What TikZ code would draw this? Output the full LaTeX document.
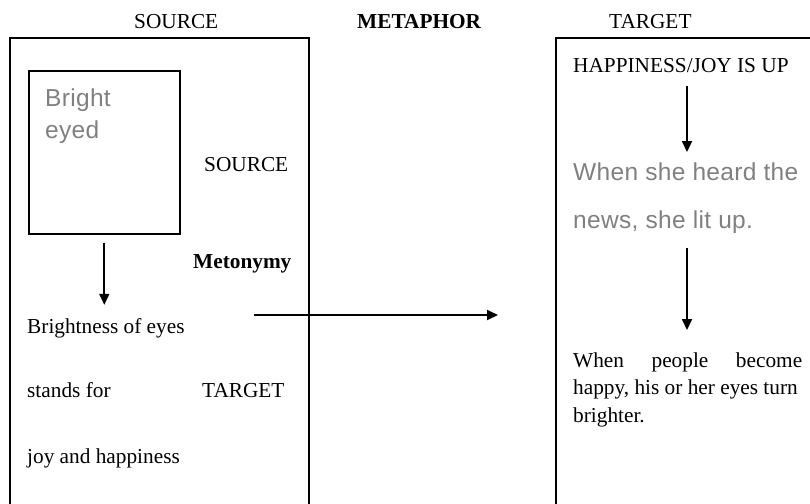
\documentclass[tikz,border=0pt]{standalone}
\usepackage{fontspec}
\setmainfont{Liberation Serif}
\newfontfamily\greysans[LetterSpace=1.3]{Liberation Sans}
\usetikzlibrary{arrows.meta}
\definecolor{textgrey}{RGB}{128,128,128}
\begin{document}
\begin{tikzpicture}[x=1pt,y=-1pt,
  frame/.style={draw, line width=1.6pt, inner sep=0pt, anchor=north west},
  lbl/.style={inner sep=0pt, anchor=base west, font=\fontsize{21.3}{26}\selectfont},
  boldlbl/.style={lbl, font=\fontsize{21.3}{26}\selectfont\bfseries},
  greytxt/.style={inner sep=0pt, anchor=base west, text=textgrey,
    font=\greysans\fontsize{24.5}{30}\selectfont},
  flow/.style={line width=1.8pt, -{Triangle[length=11pt,width=10pt]}}]
\useasboundingbox (0,0) rectangle (810,503);
\clip (0,0) rectangle (810,503);

% headings
\node[lbl] (hsource) at (134,29) {SOURCE};
\node[boldlbl] (hmetaphor) at (357,29) {METAPHOR};
\node[lbl] (htarget) at (609,29) {TARGET};

% source domain (left frame, open at the bottom)
\node[frame, minimum width=299pt, minimum height=520pt] (srcframe) at (9,37.5) {};
\node[frame, minimum width=151pt, minimum height=163pt] (eyebox) at (28,70) {};
\node[greytxt] (bright) at (45,106) {Bright};
\node[greytxt] (eyed) at (45,138) {eyed};
\node[lbl] (isource) at (204,171) {SOURCE};
\node[boldlbl] (metonymy) at (193,268) {Metonymy};
\node[lbl] (brightness) at (27,333) {Brightness of eyes};
\node[lbl] (standsfor) at (27,397) {stands for};
\node[lbl] (itarget) at (202,397) {TARGET};
\node[lbl] (joy) at (27,463) {joy and happiness};

\draw[flow] ([yshift=-8pt]eyebox.south) -- ([yshift=13pt]eyebox.south |- brightness.north);

% metaphorical mapping
\coordinate (mapfrom) at (254,315);
\coordinate (mapto) at (498,315);
\draw[flow] (mapfrom) -- (mapto);

% target domain (right frame, open at the right and bottom)
\node[frame, minimum width=300pt, minimum height=520pt] (tgtframe) at (555,37.5) {};
\node[lbl] (happyup) at (573,72) {HAPPINESS/JOY IS UP};
\node[greytxt] (heard) at (573,180) {When she heard the};
\node[greytxt] (litup) at (573,228) {news, she lit up.};
\node[lbl] (people) at (573,367) {\makebox[229pt][s]{When people become}};
\node[lbl] (eyesturn) at (573,394) {happy, his or her eyes turn};
\node[lbl] (brighter) at (573,422) {brighter.};

\coordinate (axis) at (687,0);
\draw[flow] ([yshift=-13.5pt]happyup.south -| axis) -- ([yshift=10pt]heard.north -| axis);
\draw[flow] ([yshift=-15pt]litup.south -| axis) -- ([yshift=22pt]people.north -| axis);
\end{tikzpicture}
\end{document}
